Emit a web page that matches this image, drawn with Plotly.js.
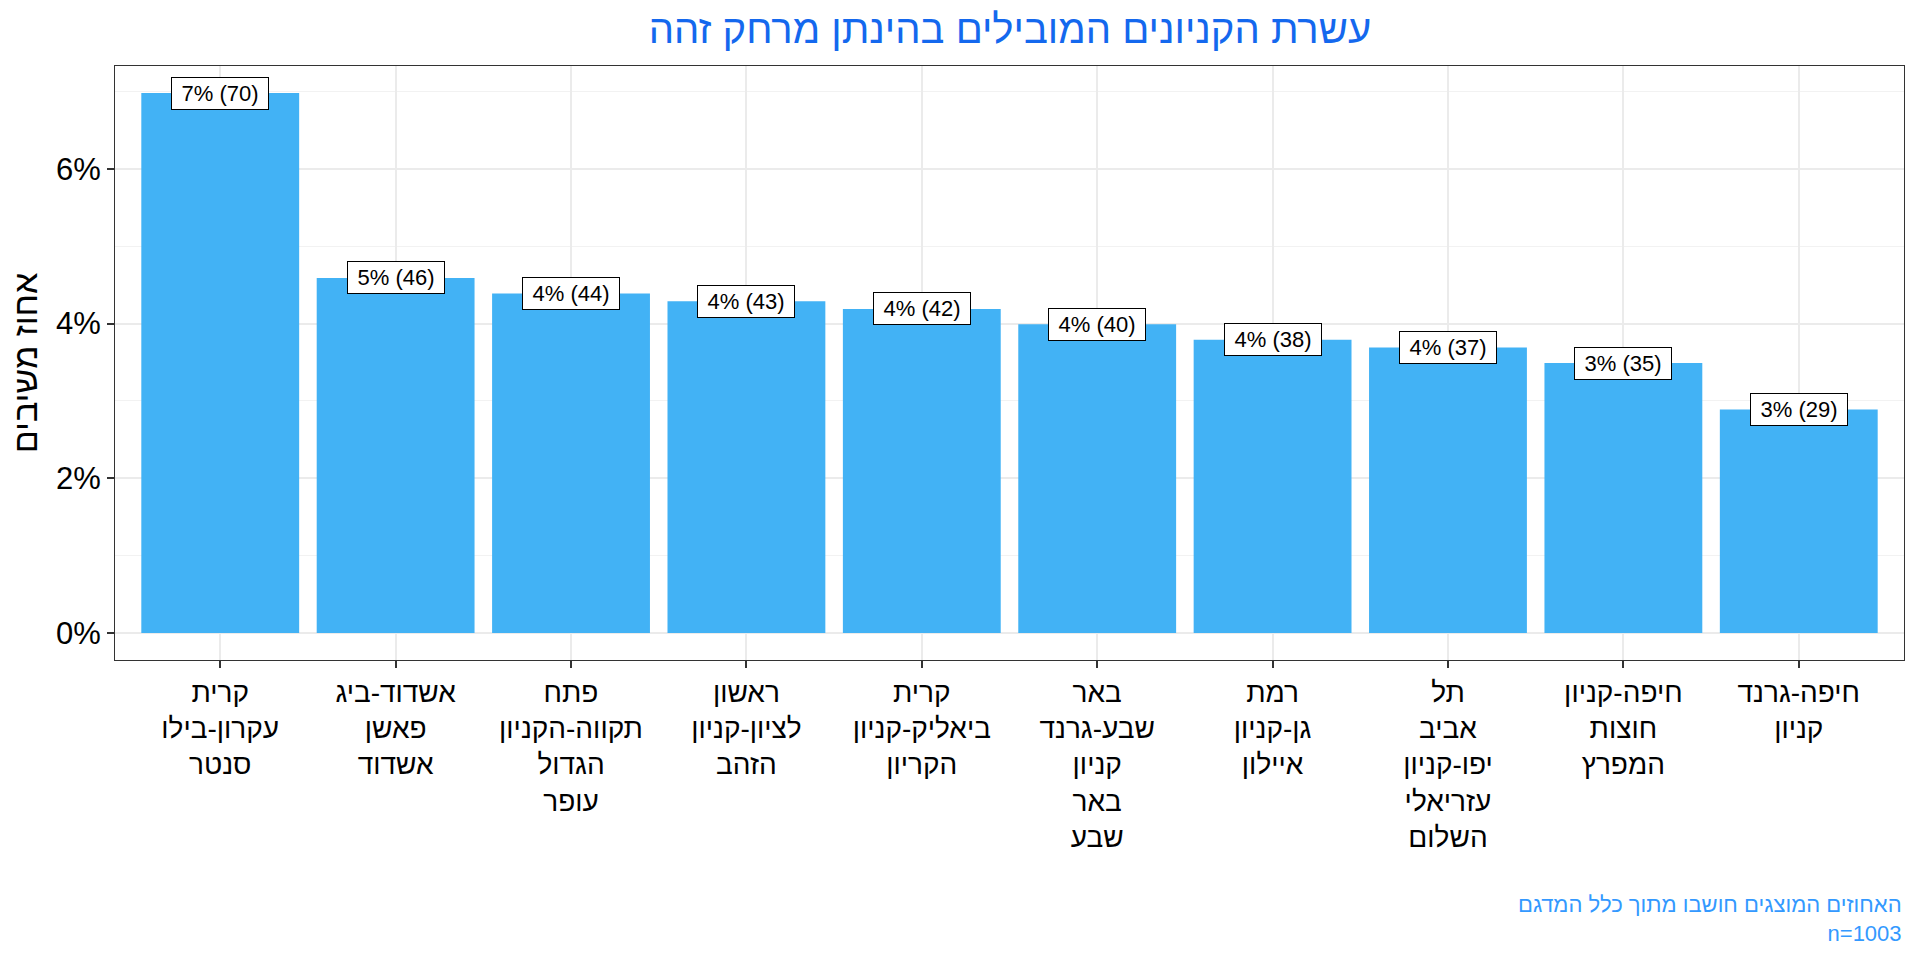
<!DOCTYPE html>
<html>
<head>
<meta charset="utf-8">
<script src="https://cdn.plot.ly/plotly-3.0.1.min.js"></script>
<style>
  body { margin: 0; background: #fff; }
  #chart { width: 1920px; height: 960px; }
</style>
</head>
<body>
<div id="chart"></div>
<script>
// top 10 malls
var malls = [
  "קרית<br>עקרון-בילו<br>סנטר",
  "אשדוד-ביג<br>פאשן<br>אשדוד",
  "פתח<br>תקווה-הקניון<br>הגדול<br>עופר",
  "ראשון<br>לציון-קניון<br>הזהב",
  "קרית<br>ביאליק-קניון<br>הקריון",
  "באר<br>שבע-גרנד<br>קניון<br>באר<br>שבע",
  "רמת<br>גן-קניון<br>איילון",
  "תל<br>אביב<br>יפו-קניון<br>עזריאלי<br>השלום",
  "חיפה-קניון<br>חוצות<br>המפרץ",
  "חיפה-גרנד<br>קניון"
];
var counts = [70, 46, 44, 43, 42, 40, 38, 37, 35, 29];
var pct = [6.98, 4.59, 4.39, 4.29, 4.19, 3.99, 3.79, 3.69, 3.49, 2.89];
var labels = ["7% (70)", "5% (46)", "4% (44)", "4% (43)", "4% (42)",
              "4% (40)", "4% (38)", "4% (37)", "3% (35)", "3% (29)"];

var font = "Liberation Sans, Arial, sans-serif";

var data = [{
  x: malls,
  y: pct,
  type: "bar",
  width: 0.9,
  marker: { color: "#42b2f5" },
  hoverinfo: "skip"
}];

// boxed labels on the bar tops
var annotations = malls.map(function (m, i) {
  return {
    x: m, y: pct[i], text: labels[i],
    showarrow: false, xanchor: "center", yanchor: "middle",
    width: 94, height: 29,
    bgcolor: "#ffffff", bordercolor: "#000000", borderwidth: 1, borderpad: 1,
    font: { family: font, size: 22, color: "#000" }
  };
});

annotations.push({
  xref: "paper", yref: "paper", x: 1, y: -0.388,
  xanchor: "right", yanchor: "top", align: "right", showarrow: false,
  text: "האחוזים המוצגים חושבו מתוך כלל המדגם<br>n=1003",
  font: { family: font, size: 22, color: "#3399ff" }
});

var layout = {
  width: 1920, height: 960,
  margin: { l: 115, r: 16, t: 66, b: 300 },
  paper_bgcolor: "#fff", plot_bgcolor: "#fff",
  showlegend: false,
  title: {
    text: "עשרת הקניונים המובילים בהינתן מרחק זהה",
    x: 0.526, xanchor: "center", y: 0.984, yanchor: "top",
    font: { family: font, size: 40, color: "#1468ee" }
  },
  xaxis: {
    range: [-0.6, 9.6],
    showgrid: true, gridcolor: "#ebebeb", gridwidth: 1.5,
    ticks: "outside", ticklen: 7, tickcolor: "#333", tickwidth: 1.5,
    showline: true, linecolor: "#333", linewidth: 1, mirror: true,
    tickfont: { family: font, size: 28, color: "#000" },
    tickangle: 0, automargin: false
  },
  yaxis: {
    range: [-0.349, 7.33],
    dtick: 2, tick0: 0, ticksuffix: "%",
    showgrid: true, gridcolor: "#ebebeb", gridwidth: 1.5,
    minor: { dtick: 1, showgrid: true, gridcolor: "#f2f2f2", gridwidth: 1 },
    zeroline: false,
    ticks: "outside", ticklen: 7, tickcolor: "#333", tickwidth: 1.5,
    showline: true, linecolor: "#333", linewidth: 1, mirror: true,
    tickfont: { family: font, size: 31, color: "#000" },
    title: { text: "אחוז משיבים", standoff: 8, font: { family: font, size: 34, color: "#000" } },
    automargin: false
  },
  annotations: annotations
};

Plotly.newPlot("chart", data, layout, { displayModeBar: false });
</script>
</body>
</html>
